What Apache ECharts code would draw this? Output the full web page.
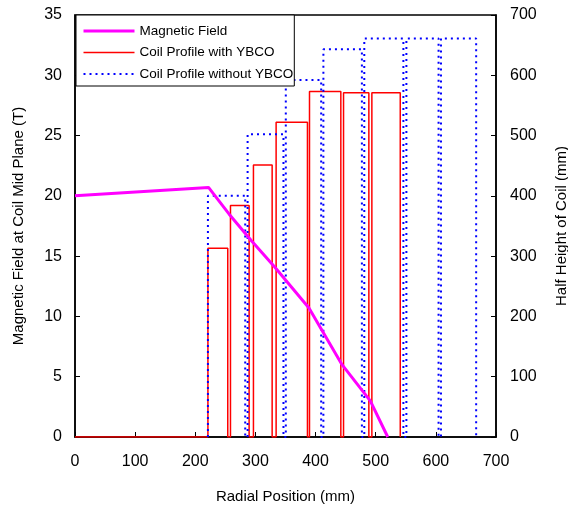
<!DOCTYPE html>
<html>
<head>
<meta charset="utf-8">
<script src="https://cdn.jsdelivr.net/npm/echarts@6/dist/echarts.min.js"></script>
<style>
  html, body { margin: 0; padding: 0; background: #fff; }
  #main { width: 568px; height: 509px; }
</style>
</head>
<body>
<div id="main"></div>
<script>
// magnetic field along the mid plane (radius mm, field T)
const fieldRadius = [0, 222, 256, 293, 332, 389, 444, 491, 520];
const fieldValue = [20, 20.7, 18.5, 16.3, 14.1, 10.7, 6.0, 3.0, 0];

// coil profile with YBCO (inner radius, outer radius, half height in mm)
const ybcoInner = [221, 258.5, 296.7, 334.4, 389.9, 446.5, 493.6];
const ybcoOuter = [254, 289.5, 327.8, 386.5, 442, 488.6, 540.8];
const ybcoHeight = [313, 384, 451, 522, 573, 571, 571];

// coil profile without YBCO
const plainInner = [221, 287, 350.5, 413, 481, 551, 608.5];
const plainOuter = [283, 346.6, 409.3, 477, 546, 604.5, 667];
const plainHeight = [400, 502, 592, 643, 661, 661, 661];

const xTicks = { min: 0, max: 700, interval: 100 };
const fieldTicks = { min: 0, max: 35, interval: 5 };
const heightTicks = { min: 0, max: 700, interval: 100 };

const FONT = '"Liberation Sans", Arial, sans-serif';

// build a stepped outline: up at inner edge, across, back down at outer edge
function profilePath(inner, outer, height, startX) {
    const pts = [];
    if (startX !== undefined) pts.push([startX, 0]);
    for (let i = 0; i < inner.length; i++) {
        pts.push([inner[i], 0]);
        pts.push([inner[i], height[i]]);
        pts.push([outer[i], height[i]]);
        pts.push([outer[i], 0]);
    }
    return pts;
}

const fieldData = fieldRadius.map((r, i) => [r, fieldValue[i]]);

const chart = echarts.init(document.getElementById('main'), null, { renderer: 'canvas' });

const axisText = { color: '#000', fontSize: 16, fontFamily: FONT };
const nameText = { color: '#000', fontSize: 15, fontFamily: FONT };

chart.setOption({
    animation: false,
    backgroundColor: '#fff',
    grid: {
        left: 75, right: 72, top: 15, bottom: 72,
        outerBoundsMode: 'none',
        containLabel: false,
        show: true, borderColor: '#000', borderWidth: 1.5
    },
    legend: {
        orient: 'vertical',
        left: 76, top: 15,
        padding: [9, 1, 5, 6],
        itemWidth: 51, itemHeight: 14, itemGap: 7.5,
        backgroundColor: '#fff',
        borderColor: '#000', borderWidth: 1,
        borderRadius: 0,
        lineStyle: { width: 'inherit' },
        itemStyle: { opacity: 0 },
        textStyle: { color: '#000', fontSize: 13.5, fontFamily: FONT },
        data: ['Magnetic Field', 'Coil Profile with YBCO', 'Coil Profile without YBCO']
    },
    xAxis: {
        type: 'value',
        min: xTicks.min, max: xTicks.max, interval: xTicks.interval,
        name: 'Radial Position (mm)',
        nameLocation: 'middle', nameGap: 52,
        nameTextStyle: nameText,
        axisLine: { lineStyle: { color: '#000', width: 1.5 } },
        axisTick: { inside: true, length: 5, lineStyle: { color: '#000' } },
        axisLabel: Object.assign({ margin: 17 }, axisText),
        splitLine: { show: false }
    },
    yAxis: [{
        type: 'value',
        min: fieldTicks.min, max: fieldTicks.max, interval: fieldTicks.interval,
        name: 'Magnetic Field at Coil Mid Plane (T)',
        nameLocation: 'middle', nameGap: 49, nameRotate: 90,
        nameTextStyle: nameText,
        axisLine: { show: true, lineStyle: { color: '#000', width: 1.5 } },
        axisTick: { show: true, inside: true, length: 5, lineStyle: { color: '#000' } },
        axisLabel: Object.assign({ margin: 13 }, axisText),
        splitLine: { show: false }
    }, {
        type: 'value',
        position: 'right',
        min: heightTicks.min, max: heightTicks.max, interval: heightTicks.interval,
        name: 'Half Height of Coil (mm)',
        nameLocation: 'middle', nameGap: 58, nameRotate: 90,
        nameTextStyle: nameText,
        axisLine: { show: true, lineStyle: { color: '#000', width: 1.5 } },
        axisTick: { show: true, inside: true, length: 5, lineStyle: { color: '#000' } },
        axisLabel: Object.assign({ margin: 14 }, axisText),
        splitLine: { show: false }
    }],
    series: [{
        name: 'Coil Profile with YBCO',
        type: 'line',
        yAxisIndex: 1,
        symbol: 'none',
        data: profilePath(ybcoInner, ybcoOuter, ybcoHeight, 0),
        lineStyle: { color: '#ff0000', width: 1.5 },
        itemStyle: { color: '#ff0000' },
        z: 2
    }, {
        name: 'Coil Profile without YBCO',
        type: 'line',
        yAxisIndex: 1,
        symbol: 'none',
        data: profilePath(plainInner, plainOuter, plainHeight),
        lineStyle: { color: '#0000ff', width: 2, type: [2, 4] },
        itemStyle: { color: '#0000ff' },
        z: 3
    }, {
        name: 'Magnetic Field',
        type: 'line',
        yAxisIndex: 0,
        symbol: 'none',
        data: fieldData,
        lineStyle: { color: '#ff00ff', width: 3 },
        itemStyle: { color: '#ff00ff' },
        z: 4
    }]
});
</script>
</body>
</html>
